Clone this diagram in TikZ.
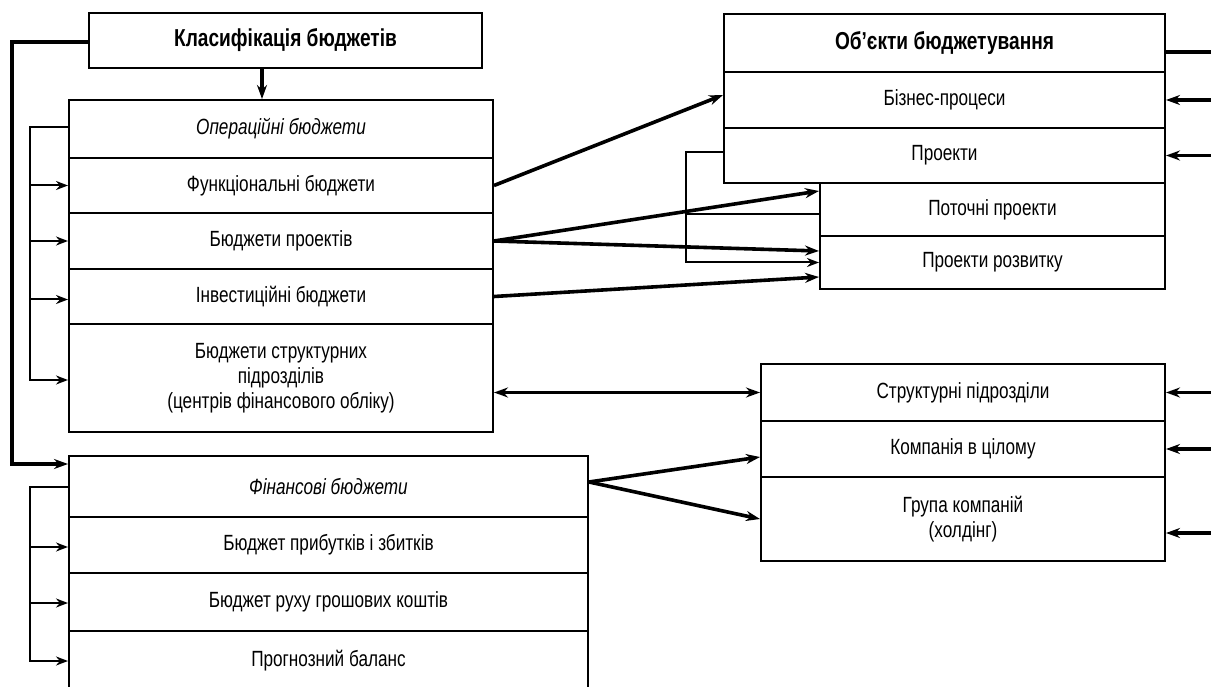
\documentclass[tikz,border=0pt]{standalone}
\usepackage{fontspec}
\setmainfont{Liberation Sans}[FakeStretch=0.78]
\usetikzlibrary{arrows.meta,calc}
\begin{document}
\begin{tikzpicture}[x=1pt,y=-1pt,
  box/.style={draw, line width=2pt, rectangle, inner sep=0pt, align=center,
    font=\fontsize{22}{25}\selectfont},
  boldtxt/.style={font=\fontsize{24.5}{28}\selectfont\bfseries},
  itxt/.style={font=\fontsize{22}{25}\selectfont\itshape},
  opw/.style={minimum width=424pt},
  finw/.style={minimum width=519pt},
  objw/.style={minimum width=441pt},
  subw/.style={minimum width=345pt},
  levw/.style={minimum width=404pt},
  lnthin/.style={line width=2pt},
  lnthick/.style={line width=3.6pt},
  arrthin/.style={lnthin, -{Stealth[length=12pt,width=9pt]}},
  arrthick/.style={lnthick, -{Stealth[length=14pt,width=10pt]}},
  arrboth/.style={lnthick, {Stealth[length=14pt,width=10pt]}-{Stealth[length=14pt,width=10pt]}}
]
\useasboundingbox (0,0) rectangle (1211,687);
\clip (0,0) rectangle (1211,687);

% classification
\node[box, boldtxt, minimum width=393pt, minimum height=55pt] (cls) at (285.5,40.5) {Класифікація бюджетів};

% operational budgets
\node[box, opw, itxt, minimum height=58pt] (op0) at (281,129) {Операційні бюджети};
\node[box, opw, minimum height=55pt] (op1) at (281,185.5) {Функціональні бюджети};
\node[box, opw, minimum height=56pt] (op2) at (281,241) {Бюджети проектів};
\node[box, opw, minimum height=55pt] (op3) at (281,296.5) {Інвестиційні бюджети};
\node[box, opw, minimum height=108pt] (op4) at (281,378) {Бюджети структурних\\підрозділів\\(центрів фінансового обліку)};

% financial budgets
\node[box, finw, itxt, minimum height=61pt] (f0) at (328.5,486.5) {Фінансові бюджети};
\node[box, finw, minimum height=56pt] (f1) at (328.5,545) {Бюджет прибутків і збитків};
\node[box, finw, minimum height=58pt] (f2) at (328.5,602) {Бюджет руху грошових коштів};
\node[box, finw, minimum height=60pt] (f3) at (328.5,661) {Прогнозний баланс};

% objects of budgeting
\node[box, objw, boldtxt, minimum height=58pt] (ob0) at (944.5,43) {Об’єкти бюджетування};
\node[box, objw, minimum height=56pt] (ob1) at (944.5,100) {Бізнес-процеси};
\node[box, objw, minimum height=55pt] (ob2) at (944.5,155.5) {Проекти};
\node[box, subw, minimum height=53pt] (s1) at (992.5,209.5) {Поточні проекти};
\node[box, subw, minimum height=53pt] (s2) at (992.5,262.5) {Проекти розвитку};

% levels
\node[box, levw, minimum height=57pt] (l1) at (963,392.5) {Структурні підрозділи};
\node[box, levw, minimum height=56pt] (l2) at (963,449) {Компанія в цілому};
\node[box, levw, minimum height=84pt] (l3) at (963,519) {Група компаній\\(холдінг)};

% helper coordinates
\coordinate (xl) at (12,0);
\coordinate (xb) at (30,0);
\coordinate (xd) at (262,0);
\coordinate (xp) at (686,0);
\coordinate (xr) at (1220,0);

% classification links
\draw[arrthick] (xd |- cls.south) -- (xd |- op0.north);
\draw[arrthick] ($(cls.west)+(0,1.5)$) -- ($(xl |- cls.west)+(0,1.5)$)
  |- ($(f0.north west)+(0,9)$);

% operational bracket
\draw[arrthin] ($(op0.west)+(0,-2)$) -- ($(xb |- op0.west)+(0,-2)$) |- ($(op4.west)+(0,2)$);
\draw[arrthin] (xb |- op1.west) -- (op1.west);
\draw[arrthin] (xb |- op2.west) -- (op2.west);
\draw[arrthin] ($(xb |- op3.west)+(0,3)$) -- ($(op3.west)+(0,3)$);

% financial bracket
\draw[arrthin] (f0.west) -- (xb |- f0.west) |- (f3.west);
\draw[arrthin] ($(xb |- f1.west)+(0,2)$) -- ($(f1.west)+(0,2)$);
\draw[arrthin] ($(xb |- f2.west)+(0,1)$) -- ($(f2.west)+(0,1)$);

% projects bracket
\draw[arrthin] ($(ob2.west)+(0,-3)$) -- ($(xp |- ob2.west)+(0,-3)$) |- (s2.west);
\draw[lnthin] ($(xp |- s1.west)+(0,5)$) -- ($(s1.west)+(0,5)$);

% operational -> objects
\draw[arrthick] (op1.east) -- ($(ob1.west)+(0,-5)$);
\draw[arrthick] (op2.east) -- ($(s1.north west)+(0,9)$);
\draw[arrthick] (op2.east) -- ($(s2.north west)+(0,16)$);
\draw[arrthick] (op3.east) -- ($(s2.south west)+(0,-13)$);
\draw[arrboth] (op4.east |- l1.west) -- (l1.west);

% financial -> levels
\draw[arrthick] ($(f0.east)+(0,-4.5)$) -- ($(l2.west)+(0,8)$);
\draw[arrthick] ($(f0.east)+(0,-4.5)$) -- (l3.west);

% right side
\draw[lnthick] ($(ob0.east)+(0,9)$) -- ($(xr |- ob0.east)+(0,9)$);
\draw[arrthick] (xr |- ob1.east) -- (ob1.east);
\draw[arrthick] (xr |- ob2.east) -- (ob2.east);
\draw[arrthick] (xr |- l1.east) -- (l1.east);
\draw[arrthick] (xr |- l2.east) -- (l2.east);
\draw[arrthick] ($(xr |- l3.east)+(0,14)$) -- ($(l3.east)+(0,14)$);
\end{tikzpicture}
\end{document}
